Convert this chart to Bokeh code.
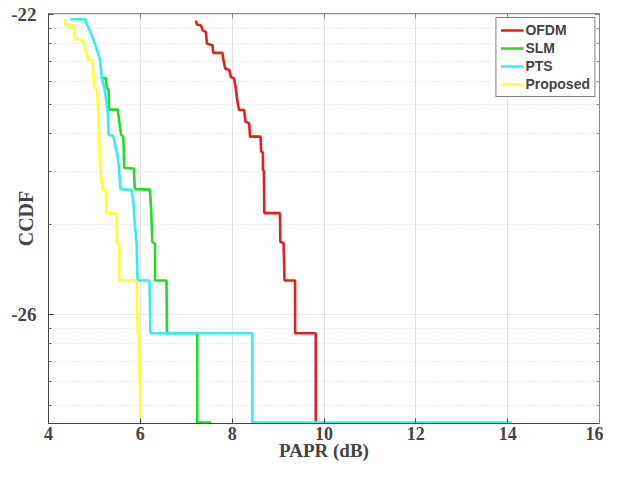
import math
from bokeh.plotting import figure
from bokeh.models import (FixedTicker, LinearAxis, LogAxis, Range1d)
from bokeh.embed import file_html
from bokeh.resources import INLINE

# ---- data ----
ofdm_papr = [7.21, 7.23, 7.32, 7.36, 7.43, 7.45, 7.57, 7.59, 7.79, 7.81, 7.85, 7.94, 7.97, 8.04,
             8.08, 8.11, 8.15, 8.26, 8.29, 8.37, 8.39, 8.62, 8.63, 8.67, 8.67, 8.69, 8.70, 9.04,
             9.05, 9.12, 9.14, 9.37, 9.37, 9.82, 9.82]
ofdm_ccdf = [0.955, 0.927, 0.920, 0.885, 0.874, 0.800, 0.790, 0.745, 0.745, 0.704, 0.661, 0.652,
             0.620, 0.612, 0.567, 0.519, 0.481, 0.481, 0.440, 0.434, 0.392, 0.392, 0.350, 0.347,
             0.305, 0.301, 0.218, 0.218, 0.175, 0.173, 0.130, 0.130, 0.0867, 0.0867, 0.0437]

slm_papr = [5.18, 5.25, 5.27, 5.31, 5.32, 5.51, 5.54, 5.58, 5.63, 5.65, 5.86, 5.88, 6.21, 6.24,
            6.26, 6.32, 6.32, 6.57, 6.58, 7.24, 7.24, 7.54]
slm_ccdf = [0.614, 0.614, 0.569, 0.562, 0.482, 0.482, 0.441, 0.398, 0.391, 0.308, 0.307, 0.262,
            0.261, 0.2165, 0.175, 0.172, 0.130, 0.130, 0.0867, 0.0867, 0.0437, 0.0437]

pts_papr = [4.48, 4.80, 4.84, 4.91, 4.97, 5.02, 5.08, 5.13, 5.16, 5.22, 5.25, 5.29, 5.31, 5.41,
            5.45, 5.49, 5.52, 5.54, 5.57, 5.81, 5.85, 5.88, 5.92, 5.94, 6.20, 6.22, 8.44, 8.44,
            14.09]
pts_ccdf = [0.965, 0.965, 0.922, 0.876, 0.833, 0.791, 0.743, 0.697, 0.614, 0.569, 0.527, 0.476,
            0.398, 0.394, 0.369, 0.347, 0.325, 0.301, 0.262, 0.260, 0.237, 0.2006, 0.172, 0.130,
            0.130, 0.0867, 0.0867, 0.0437, 0.0437]

prop_papr = [4.35, 4.37, 4.55, 4.57, 4.73, 4.77, 4.82, 4.87, 4.95, 4.98, 5.00, 5.05, 5.08, 5.11,
             5.13, 5.18, 5.25, 5.26, 5.48, 5.49, 5.54, 5.54, 5.92, 5.94, 5.97, 6.01]
prop_ccdf = [0.965, 0.922, 0.922, 0.833, 0.822, 0.802, 0.753, 0.706, 0.706, 0.630, 0.569, 0.562,
             0.488, 0.351, 0.301, 0.262, 0.260, 0.218, 0.217, 0.175, 0.170, 0.130, 0.130, 0.0867,
             0.0857, 0.0437]

series_names = ["OFDM", "SLM", "PTS", "Proposed"]
series_colors = ["#e61e1e", "#22dd22", "#33eeee", "#ffff2a"]

x_ticks = [4, 6, 8, 10, 12, 14, 16]
y_major = [1.0, 0.1]
y_major_labels = ["-22", "-26"]
y_minor = [0.05, 0.06, 0.07, 0.08, 0.09, 0.2, 0.3, 0.4, 0.5, 0.6, 0.7, 0.8, 0.9]

# ---- figure ----
p = figure(width=603, height=463, output_backend="svg", toolbar_location=None,
           x_range=Range1d(4, 16), y_range=Range1d(0.0434, 1.008), y_axis_type="log",
           min_border_left=48, min_border_right=4, min_border_top=13, min_border_bottom=40)
p.outline_line_color = "#8a8a8a"
p.background_fill_color = "white"

serif = "Liberation Serif"

# x axis
xa = p.xaxis[0]
xa.ticker = FixedTicker(ticks=x_ticks)
xa.axis_label = "PAPR (dB)"
xa.axis_label_text_font = serif
xa.axis_label_text_font_style = "bold"
xa.axis_label_text_font_size = "19px"
xa.axis_label_standoff = -3
xa.major_label_text_font = serif
xa.major_label_text_font_style = "bold"
xa.major_label_text_font_size = "18px"
xa.major_label_standoff = 3
xa.major_tick_in = 5
xa.major_tick_out = 0
xa.axis_line_color = "#444444"
xa.major_tick_line_color = "#444444"

# y axis
ya = p.yaxis[0]
ya.ticker = FixedTicker(ticks=y_major, minor_ticks=y_minor)
ya.major_label_overrides = {t: s for t, s in zip(y_major, y_major_labels)}
ya.major_label_text_font = serif
ya.major_label_text_font_style = "bold"
ya.major_label_text_font_size = "19px"
ya.major_label_standoff = 12
ya.major_tick_in = 5
ya.major_tick_out = 0
ya.minor_tick_in = 3
ya.minor_tick_out = 0
ya.axis_line_color = "#444444"
ya.major_tick_line_color = "#444444"
ya.minor_tick_line_color = "#666666"
ya.axis_label = "CCDF"
ya.axis_label_text_font = serif
ya.axis_label_text_font_style = "bold"
ya.axis_label_text_font_size = "20px"
ya.axis_label_standoff = -29

# mirrored axes (box ticks), labels hidden
top = LinearAxis(ticker=FixedTicker(ticks=x_ticks), major_label_text_font_size="1px",
                 major_label_text_color=None,
                 major_tick_in=5, major_tick_out=0, axis_line_color="#8a8a8a",
                 major_tick_line_color="#8a8a8a", minor_tick_line_color=None,
                 major_label_standoff=0)
p.add_layout(top, "above")
right = LogAxis(ticker=FixedTicker(ticks=y_major, minor_ticks=y_minor),
                major_label_text_font_size="1px", major_label_text_color=None,
                major_tick_in=5, major_tick_out=0,
                minor_tick_in=3, minor_tick_out=0, axis_line_color="#8a8a8a",
                major_tick_line_color="#8a8a8a", minor_tick_line_color="#8a8a8a",
                major_label_standoff=0)
p.add_layout(right, "right")

# grids
p.xgrid.ticker = FixedTicker(ticks=x_ticks[1:-1])
p.xgrid.grid_line_color = "#e2e2e2"
p.ygrid.ticker = FixedTicker(ticks=y_major, minor_ticks=y_minor)
p.ygrid.grid_line_color = "#e6e6e6"
p.ygrid.minor_grid_line_color = "#d9d9d9"
p.ygrid.minor_grid_line_dash = "1 2"

# curves
data = [(ofdm_papr, ofdm_ccdf), (slm_papr, slm_ccdf), (pts_papr, pts_ccdf), (prop_papr, prop_ccdf)]
for (xs, ys), name, col in zip(data, series_names, series_colors):
    p.line(xs, ys, line_color=col, line_width=2.6, legend_label=name)

lg = p.legend[0]
lg.location = "top_right"
lg.margin = 4
lg.padding = 4
lg.spacing = 2
lg.glyph_width = 23
lg.glyph_height = 14
lg.label_height = 14
lg.label_standoff = 2
lg.label_text_font = "Liberation Sans"
lg.label_text_font_style = "bold"
lg.label_text_font_size = "14px"
lg.border_line_color = "black"
lg.border_line_width = 1
lg.background_fill_alpha = 1.0

open("out.html", "w").write(file_html(p, INLINE))
